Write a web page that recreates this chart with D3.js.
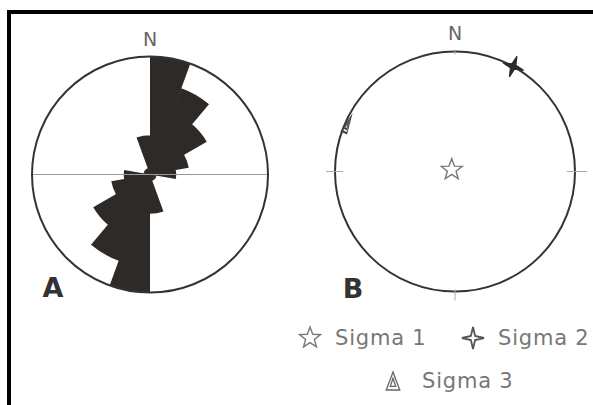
<!DOCTYPE html>
<head>
  <title>Rose diagram and stress axes</title>
  <script src="https://d3js.org/d3.v7.min.js"></script>
</head>
<style>
body {
    margin: 0;
    background: #fff;
    font-family: "DejaVu Sans", "Noto Sans", Arial, sans-serif;
}
svg text {
    pointer-events: none;
}
</style>
<body>
<svg id="chart"></svg>
<script>
    // rose diagram A: 20 degree bins (bearing of bin start) and counts
    var binStart = [0, 20, 40, 60, 80, 100, 120, 140, 160, 180, 200, 220, 240, 260, 280, 300, 320, 340];
    var binCount = [18, 14, 10, 6, 4, 1, 1, 1, 6, 18, 14, 10, 6, 4, 1, 1, 1, 6];

    // stereonet B: principal stress axes (trend / plunge in degrees)
    var sigmaName   = ["Sigma 1", "Sigma 2", "Sigma 3"];
    var sigmaTrend  = [297, 29, 294];
    var sigmaPlunge = [87.5, 0, 2.5];

    // compass labels
    var northLabel = "N";
    var panelLabels = ["A", "B"];

    var width = 593;
    var height = 405;
    var dark = "#2e2a28";

    var svg = d3.select("#chart")
        .attr("width", width)
        .attr("height", height);

    svg.append("rect").attr("width", width).attr("height", height).attr("fill", "#fff");

    // frame (only top and left edges show)
    svg.append("line").attr("x1", 7).attr("x2", width).attr("y1", 12).attr("y2", 12)
        .attr("stroke", "#000").attr("stroke-width", 4);
    svg.append("line").attr("x1", 9).attr("x2", 9).attr("y1", 10).attr("y2", height)
        .attr("stroke", "#000").attr("stroke-width", 4);

    // ---------- panel A ----------
    var rA = 118;
    var gA = svg.append("g").attr("transform", "translate(150,174.5)");

    var rScale = d3.scaleLinear()
        .domain([0, d3.max(binCount)])
        .range([0, rA]);

    var toRad = Math.PI / 180;
    var arc = d3.arc()
        .innerRadius(0)
        .outerRadius(function (d) { return rScale(d.count); })
        .startAngle(function (d) { return d.start * toRad; })
        .endAngle(function (d) { return (d.start + 20) * toRad; });

    var bins = binStart.map(function (s, i) { return { start: s, count: binCount[i] }; });

    // all petals in one path so no seams show between them
    gA.append("path")
        .attr("d", bins.map(function (d) { return arc(d); }).join(""))
        .attr("fill", dark);

    gA.append("line")
        .attr("x1", -rA).attr("x2", rA)
        .attr("stroke", "#999").attr("stroke-width", 1);

    gA.append("circle").attr("r", rA)
        .attr("fill", "none").attr("stroke", "#333").attr("stroke-width", 2);

    gA.append("text")
        .attr("y", -rA - 11)
        .attr("text-anchor", "middle")
        .attr("font-size", 19)
        .attr("fill", "#666")
        .text(northLabel);

    svg.append("text")
        .attr("x", 53).attr("y", 297)
        .attr("text-anchor", "middle")
        .attr("font-size", 27)
        .attr("font-weight", "bold")
        .attr("fill", "#333")
        .text(panelLabels[0]);

    // ---------- panel B ----------
    var rB = 120;
    var cxB = 455, cyB = 171.5;
    var gB = svg.append("g").attr("transform", "translate(" + cxB + "," + cyB + ")");

    // equal area (Schmidt) projection of a line
    function project(trend, plunge) {
        var r = rB * Math.SQRT2 * Math.sin((90 - plunge) / 2 * toRad);
        return [r * Math.sin(trend * toRad), -r * Math.cos(trend * toRad)];
    }

    gB.append("circle").attr("r", rB)
        .attr("fill", "none").attr("stroke", "#333").attr("stroke-width", 2);

    // tick marks at N, E, S, W
    var ticks = [[0, -rB - 1, 0, -rB + 3], [rB - 8, 0, rB + 12, 0], [0, rB - 2, 0, rB + 9], [-rB - 9, 0, -rB + 8, 0]];
    gB.selectAll("line.tick")
        .data(ticks)
        .enter().append("line")
        .attr("class", "tick")
        .attr("x1", function (d) { return d[0]; })
        .attr("y1", function (d) { return d[1]; })
        .attr("x2", function (d) { return d[2]; })
        .attr("y2", function (d) { return d[3]; })
        .attr("stroke", "#aaa").attr("stroke-width", 1);

    gB.append("text")
        .attr("y", -rB - 12)
        .attr("text-anchor", "middle")
        .attr("font-size", 19)
        .attr("fill", "#666")
        .text(northLabel);

    svg.append("text")
        .attr("x", 353).attr("y", 298)
        .attr("text-anchor", "middle")
        .attr("font-size", 27)
        .attr("font-weight", "bold")
        .attr("fill", "#333")
        .text(panelLabels[1]);

    // symbol paths
    function starPath(points, outer, inner) {
        var pts = [];
        for (var i = 0; i < points * 2; i++) {
            var a = i * Math.PI / points;
            var r = i % 2 ? inner : outer;
            pts.push([r * Math.sin(a), -r * Math.cos(a)]);
        }
        return d3.line()(pts) + "Z";
    }
    function trianglePath(s) {
        return "M0," + (-s) + "L" + (s * 0.75) + "," + s + "L" + (-s * 0.75) + "," + s + "Z" +
               "M0," + (-s * 0.3) + "L" + (s * 0.3) + "," + (s * 0.6) + "L" + (-s * 0.3) + "," + (s * 0.6) + "Z";
    }

    var symbols = [
        { d: starPath(5, 11, 4.6), fill: "#fff", stroke: "#777", w: 1.4 },
        { d: starPath(4, 11, 3), fill: dark, stroke: dark, w: 1.2 },
        { d: trianglePath(9), fill: "none", stroke: "#666", w: 1.3 }
    ];

    // stress axes on the net
    sigmaName.forEach(function (name, i) {
        var p = project(sigmaTrend[i], sigmaPlunge[i]);
        var s = symbols[i];
        var tf = "translate(" + p[0] + "," + p[1] + ")";
        if (i === 1) tf += " rotate(20)";
        // sigma 3 lies nearly flat, drawn edge-on along the net
        if (i === 2) tf += " rotate(" + (sigmaTrend[i] + 90) + ") scale(0.45,1)";
        gB.append("path")
            .attr("d", s.d)
            .attr("transform", tf)
            .attr("fill", s.fill)
            .attr("stroke", i === 2 ? "#444" : s.stroke)
            .attr("stroke-width", i === 2 ? 2 : s.w);
    });

    // legend
    var legendPos = [[310, 338], [473, 338], [393, 381]];
    var legend = svg.append("g");
    sigmaName.forEach(function (name, i) {
        var s = symbols[i];
        legend.append("path")
            .attr("d", s.d)
            .attr("transform", "translate(" + legendPos[i][0] + "," + legendPos[i][1] + ")")
            .attr("fill", i === 1 ? "#fff" : s.fill)
            .attr("stroke", i === 1 ? "#555" : s.stroke)
            .attr("stroke-width", i === 1 ? 1.8 : s.w);
        legend.append("text")
            .attr("x", legendPos[i][0] + (i === 2 ? 29 : 25))
            .attr("y", legendPos[i][1] + 7)
            .attr("font-size", 21)
            .attr("letter-spacing", 0.8)
            .attr("fill", "#777")
            .text(name);
    });
</script>
</body>
